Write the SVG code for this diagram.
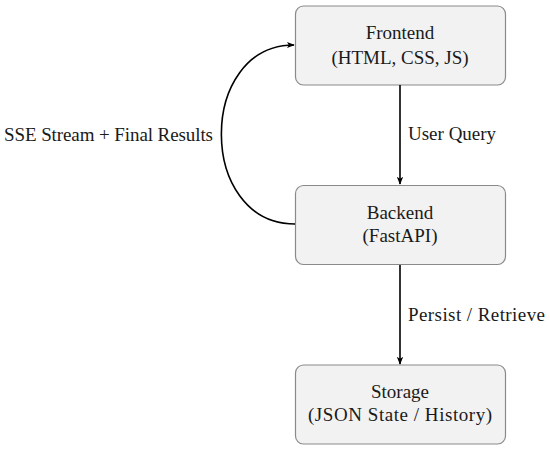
<svg xmlns="http://www.w3.org/2000/svg" width="550" height="449" viewBox="0 0 550 449">
<style>
.box{fill:#f2f2f2;stroke:#8a8a8a;stroke-width:1.2}
text{font-family:"Liberation Serif","DejaVu Serif",serif;font-size:19px;fill:#1a1a1a}
.c{text-anchor:middle}
.edge{fill:none;stroke:#000;stroke-width:1.6}
</style>
<defs>
<marker id="arr" viewBox="0 0 10 10" refX="9" refY="5" markerWidth="8" markerHeight="8" markerUnits="userSpaceOnUse" orient="auto">
<path d="M0,1 L10,5 L0,9 L2.5,5 Z" fill="#000"/>
</marker>
</defs>
<g id="frontend">
<rect class="box" x="295.5" y="6" width="210" height="79" rx="8"/>
<text class="c" x="400" y="39">Frontend</text>
<text class="c" x="400" y="64">(HTML, CSS, JS)</text>
</g>
<g id="backend">
<rect class="box" x="295.5" y="185.5" width="210" height="79" rx="8"/>
<text class="c" x="400" y="219">Backend</text>
<text class="c" x="400" y="242">(FastAPI)</text>
</g>
<g id="storage">
<rect class="box" x="295.5" y="365" width="210" height="79" rx="8"/>
<text class="c" x="400" y="398">Storage</text>
<text class="c" x="400" y="421" textLength="184" lengthAdjust="spacing">(JSON State / History)</text>
</g>
<g id="connectors">
<path class="edge" d="M400,85 L400,184" marker-end="url(#arr)"/>
<path class="edge" d="M400,265 L400,364" marker-end="url(#arr)"/>
<path class="edge" d="M295,224 C197,224 197,45 294,45" marker-end="url(#arr)"/>
<text x="408" y="140">User Query</text>
<text x="408" y="321" textLength="137" lengthAdjust="spacing">Persist / Retrieve</text>
<text x="4" y="141" textLength="209" lengthAdjust="spacing">SSE Stream + Final Results</text>
</g>
</svg>
